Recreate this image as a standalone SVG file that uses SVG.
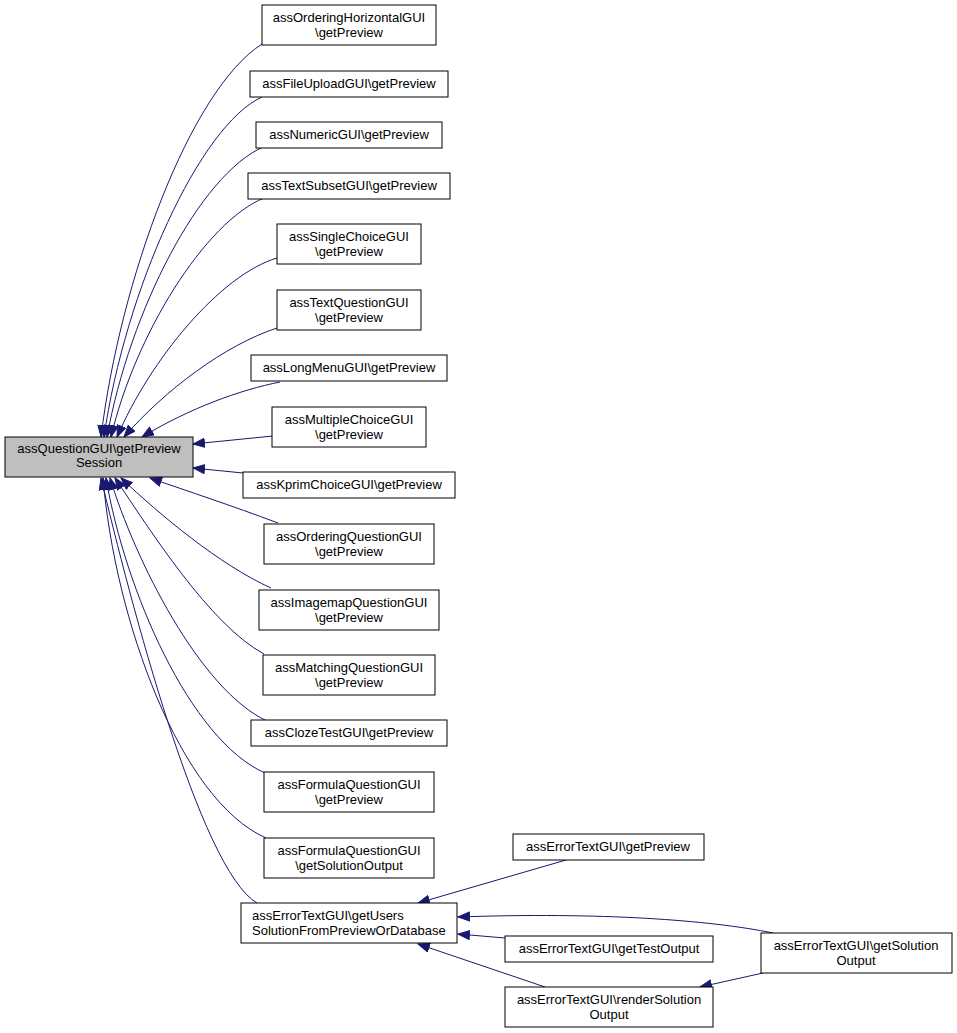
<svg xmlns="http://www.w3.org/2000/svg" width="957" height="1033" viewBox="0 0 957 1033">
<style>
.n rect{fill:#ffffff;stroke:#000000;stroke-width:1}
.n.main rect{fill:#bfbfbf}
.n text{font-family:"Liberation Sans",Arial,Helvetica,sans-serif;font-size:13px;fill:#000000;text-anchor:middle}
.n text.l{text-anchor:start}
#edges path{fill:none;stroke:#191970;stroke-width:1;marker-end:url(#ah)}
</style>
<defs>
<marker id="ah" markerUnits="userSpaceOnUse" markerWidth="14" markerHeight="11" refX="12" refY="5" orient="auto">
<path d="M0.5,0.5 L12,5 L0.5,9.5 z" fill="#191970" stroke="#191970" stroke-width="1"/>
</marker>
</defs>
<rect x="0" y="0" width="957" height="1033" fill="#ffffff"/>
<g id="edges">
<path d="M262,44 C190,90 120,280 101,437"/>
<path d="M262,97 C200,125 125,290 104,437"/>
<path d="M263,147 C200,175 130,310 107,437"/>
<path d="M264,198 C205,222 135,335 111,437"/>
<path d="M277,258 C220,275 150,360 117,437"/>
<path d="M277,328 C225,345 165,390 124,437"/>
<path d="M280,382 C240,390 190,408 142,437"/>
<path d="M273,436 L193,444"/>
<path d="M243,473 L193,468"/>
<path d="M278,523 C230,505 190,492 150,478"/>
<path d="M271,588 C220,565 160,515 121,478"/>
<path d="M264,654 C210,625 150,530 115,478"/>
<path d="M267,721 C200,690 135,560 110,478"/>
<path d="M265,773 C190,740 125,590 106,478"/>
<path d="M266,838 C180,800 115,620 103,478"/>
<path d="M257,903 C200,870 130,600 101,478"/>
<path d="M566,860 L418,903"/>
<path d="M773,933 C710,920 600,912 458,917"/>
<path d="M505,938 L458,934"/>
<path d="M545,987 L418,944"/>
<path d="M763,973 L700,987"/>
</g>
<g id="main" class="n main"><rect x="5" y="437" width="188" height="40"/><text x="99" y="453">assQuestionGUI\getPreview</text><text x="99" y="467">Session</text></g>
<g id="n1" class="n"><rect x="262" y="5" width="174" height="40"/><text x="349" y="22">assOrderingHorizontalGUI</text><text x="349" y="37">\getPreview</text></g>
<g id="n2" class="n"><rect x="250" y="71" width="198" height="26"/><text x="349" y="88">assFileUploadGUI\getPreview</text></g>
<g id="n3" class="n"><rect x="256" y="122" width="186" height="26"/><text x="349" y="139">assNumericGUI\getPreview</text></g>
<g id="n4" class="n"><rect x="248" y="173" width="202" height="26"/><text x="349" y="190">assTextSubsetGUI\getPreview</text></g>
<g id="n5" class="n"><rect x="277" y="224" width="144" height="40"/><text x="349" y="241">assSingleChoiceGUI</text><text x="349" y="256">\getPreview</text></g>
<g id="n6" class="n"><rect x="277" y="290" width="144" height="40"/><text x="349" y="307">assTextQuestionGUI</text><text x="349" y="322">\getPreview</text></g>
<g id="n7" class="n"><rect x="251" y="355" width="196" height="26"/><text x="349" y="372">assLongMenuGUI\getPreview</text></g>
<g id="n8" class="n"><rect x="272" y="407" width="154" height="40"/><text x="349" y="424">assMultipleChoiceGUI</text><text x="349" y="439">\getPreview</text></g>
<g id="n9" class="n"><rect x="243" y="472" width="212" height="26"/><text x="349" y="489">assKprimChoiceGUI\getPreview</text></g>
<g id="n10" class="n"><rect x="264" y="524" width="170" height="40"/><text x="349" y="541">assOrderingQuestionGUI</text><text x="349" y="556">\getPreview</text></g>
<g id="n11" class="n"><rect x="259" y="590" width="180" height="40"/><text x="349" y="607">assImagemapQuestionGUI</text><text x="349" y="622">\getPreview</text></g>
<g id="n12" class="n"><rect x="263" y="655" width="172" height="40"/><text x="349" y="672">assMatchingQuestionGUI</text><text x="349" y="687">\getPreview</text></g>
<g id="n13" class="n"><rect x="251" y="720" width="196" height="26"/><text x="349" y="737">assClozeTestGUI\getPreview</text></g>
<g id="n14" class="n"><rect x="264" y="772" width="170" height="40"/><text x="349" y="789">assFormulaQuestionGUI</text><text x="349" y="804">\getPreview</text></g>
<g id="n15" class="n"><rect x="264" y="838" width="170" height="40"/><text x="349" y="855">assFormulaQuestionGUI</text><text x="349" y="870">\getSolutionOutput</text></g>
<g id="n16" class="n"><rect x="241" y="903" width="216" height="40"/><text class="l" x="252" y="920">assErrorTextGUI\getUsers</text><text class="l" x="252" y="935">SolutionFromPreviewOrDatabase</text></g>
<g id="n17" class="n"><rect x="513" y="834" width="191" height="26"/><text x="608" y="851">assErrorTextGUI\getPreview</text></g>
<g id="n18" class="n"><rect x="505" y="936" width="208" height="26"/><text x="609" y="953">assErrorTextGUI\getTestOutput</text></g>
<g id="n19" class="n"><rect x="761" y="933" width="191" height="40"/><text x="856" y="950">assErrorTextGUI\getSolution</text><text x="856" y="965">Output</text></g>
<g id="n20" class="n"><rect x="505" y="987" width="208" height="40"/><text x="609" y="1004">assErrorTextGUI\renderSolution</text><text x="609" y="1019">Output</text></g>
</svg>
